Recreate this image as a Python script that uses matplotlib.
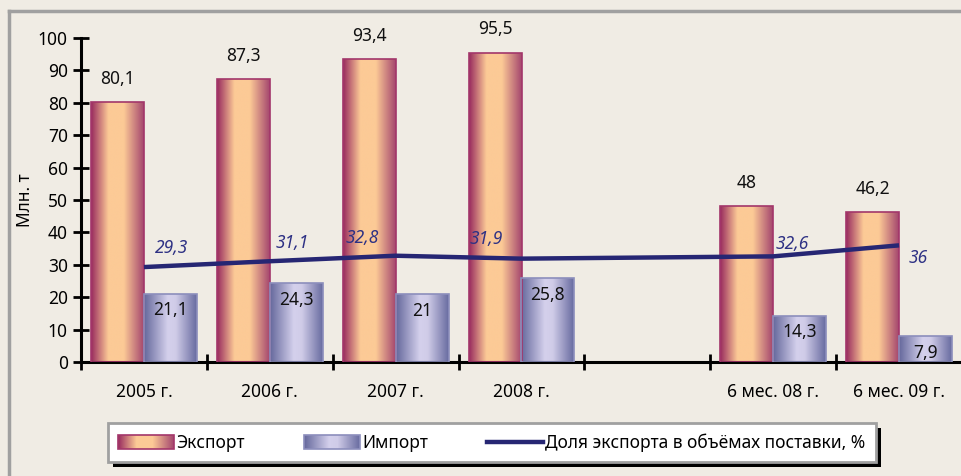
import numpy as np
import matplotlib.pyplot as plt
from matplotlib.colors import LinearSegmentedColormap
from matplotlib.patches import Rectangle, Patch
from matplotlib.lines import Line2D
from matplotlib.image import BboxImage
from matplotlib.transforms import Bbox, TransformedBbox
from matplotlib.legend_handler import HandlerBase

plt.rcParams['font.family'] = ['Noto Sans', 'DejaVu Sans']

# Данные
categories = ["2005 г.", "2006 г.", "2007 г.", "2008 г.", "", "6 мес. 08 г.", "6 мес. 09 г."]
export_vals = [80.1, 87.3, 93.4, 95.5, np.nan, 48, 46.2]
import_vals = [21.1, 24.3, 21, 25.8, np.nan, 14.3, 7.9]
share_vals = [29.3, 31.1, 32.8, 31.9, np.nan, 32.6, 36]
yticks = [0, 10, 20, 30, 40, 50, 60, 70, 80, 90, 100]

BG = "#f0ece4"
FS = 12.5
export_cmap = LinearSegmentedColormap.from_list(
    "exp", [(0, "#982a5e"), (0.33, "#fcca96"), (0.62, "#fcca96"), (1, "#a4466e")])
import_cmap = LinearSegmentedColormap.from_list(
    "imp", [(0, "#65689c"), (0.45, "#d4d0ec"), (0.6, "#d0cce8"), (1, "#686ba0")])
grad = np.linspace(0, 1, 256).reshape(1, -1)


def fmt(v):
    return f"{v:g}".replace(".", ",")


fig = plt.figure(figsize=(9.62, 4.76), dpi=100)
fig.patch.set_facecolor(BG)
ax = fig.add_axes([81 / 962, 1 - 362 / 476, 881 / 962, 324 / 476])
ax.set_facecolor("none")

x = np.arange(len(categories))
w = 0.42
exp = np.array(export_vals, dtype=float)
imp = np.array(import_vals, dtype=float)
shr = np.array(share_vals, dtype=float)
ok = ~np.isnan(exp)

bars_e = ax.bar(x[ok] - w / 2, exp[ok], w, facecolor="none", edgecolor="#a3366a", lw=1.2, zorder=3)
bars_i = ax.bar(x[ok] + w / 2, imp[ok], w, facecolor="none", edgecolor="#8c8ebc", lw=1.2, zorder=3)

# градиентная заливка столбцов
for bars, cmap in [(bars_e, export_cmap), (bars_i, import_cmap)]:
    for b in bars:
        x0, h = b.get_x(), b.get_height()
        im = ax.imshow(grad, cmap=cmap, extent=[x0, x0 + b.get_width(), 0, h],
                       aspect="auto", zorder=2, interpolation="bilinear")
        im.set_clip_path(b)

# линия доли экспорта
okl = ~np.isnan(shr)
ax.plot(x[okl], shr[okl], color="#262673", lw=3.2, solid_capstyle="butt", zorder=4)

# подписи
for b, v in zip(bars_e, exp[ok]):
    ax.annotate(fmt(v), (b.get_x() + b.get_width() / 2, v), xytext=(0, 17),
                textcoords="offset points", ha="center", va="center", fontsize=FS, color="#111111")
for b, v in zip(bars_i, imp[ok]):
    ax.annotate(fmt(v), (b.get_x() + b.get_width() / 2, v), xytext=(0, -12),
                textcoords="offset points", ha="center", va="center", fontsize=FS, color="#111111")
share_offsets = [(20, 14), (16, 13), (-24, 13), (-25, 14), (14, 9), (14, -9)]
for xi, v, off in zip(x[okl], shr[okl], share_offsets):
    ax.annotate(fmt(v), (xi, v), xytext=off, textcoords="offset points",
                ha="center", va="center", fontsize=FS, color="#2e3184", style="italic")

ax.set_xlim(-0.5, len(categories) - 0.5)
ax.set_ylim(0, 100)
ax.set_yticks(yticks)
ax.set_xticks(x)
ax.set_xticklabels(categories, fontsize=FS)
ax.set_xticks(np.arange(-0.5, len(categories), 1), minor=True)
ax.tick_params(axis="x", which="major", length=0, pad=15)
ax.tick_params(axis="x", which="minor", direction="inout", length=11, width=2)
ax.tick_params(axis="y", direction="inout", length=11, width=2, labelsize=FS, pad=4)
for s in ["top", "right"]:
    ax.spines[s].set_visible(False)
for s in ["left", "bottom"]:
    ax.spines[s].set_linewidth(2.2)
ax.set_ylabel("Млн. т", fontsize=FS, va="center")
ax.yaxis.set_label_coords(-0.064, 0.5)


class GradHandler(HandlerBase):
    def __init__(self, cmap, edge):
        super().__init__()
        self.cmap, self.edge = cmap, edge

    def create_artists(self, legend, orig_handle, xdescent, ydescent, width, height, fontsize, trans):
        bb = TransformedBbox(Bbox.from_bounds(-xdescent, -ydescent, width, height), trans)
        img = BboxImage(bb, cmap=self.cmap, interpolation="bilinear")
        img.set_data(grad)
        rect = Rectangle((-xdescent, -ydescent), width, height, facecolor="none",
                         edgecolor=self.edge, lw=1.2, transform=trans)
        return [img, rect]


h_exp = Patch(label="Экспорт")
h_imp = Patch(label="Импорт")
h_line = Line2D([], [], color="#262673", lw=3.2, label="Доля экспорта в объёмах поставки, %")
leg = fig.legend(handles=[h_exp, h_imp, h_line], ncol=3, loc="upper left",
                 bbox_to_anchor=(108 / 962, 1 - 423 / 476), fontsize=FS, frameon=True,
                 fancybox=False, framealpha=1, edgecolor="#a0a0a0", handlelength=3.2,
                 handleheight=0.8, handletextpad=0.15, columnspacing=3.4, borderpad=0.6,
                 borderaxespad=0,
                 handler_map={h_exp: GradHandler(export_cmap, "#a3366a"),
                              h_imp: GradHandler(import_cmap, "#8c8ebc")})
leg.get_frame().set_linewidth(2)
leg.set_zorder(5)

# тень легенды
fig.canvas.draw()
bb = leg.get_window_extent().transformed(fig.transFigure.inverted())
fig.patches.append(Rectangle((bb.x0 + 5 / 962, bb.y0 - 5 / 476), bb.width, bb.height,
                             transform=fig.transFigure, facecolor="black", edgecolor="none", zorder=1))

# рамка диаграммы
fig.add_artist(Line2D([9 / 962, 1], [1 - 11 / 476] * 2, color="#a0a0a0", lw=2.5))
fig.add_artist(Line2D([9 / 962] * 2, [0, 1 - 11 / 476], color="#a0a0a0", lw=2.5))

fig.savefig("out.png", dpi=100, facecolor=BG)
